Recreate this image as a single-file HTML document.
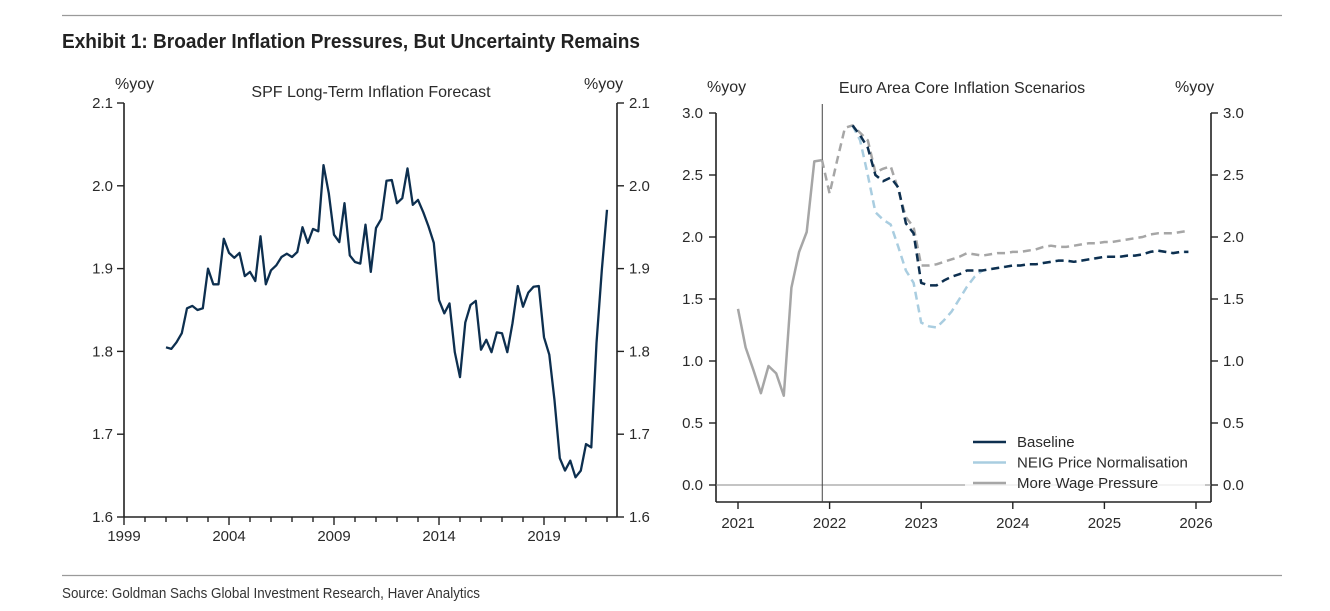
<!DOCTYPE html>
<html><head><meta charset="utf-8">
<style>
body{margin:0;background:#fff;width:1330px;height:611px;overflow:hidden;font-family:"Liberation Sans",sans-serif;}
svg{position:absolute;left:0;top:0}
</style></head>
<body>
<svg id="c" width="1330" height="611">
  <line x1="62" y1="15.5" x2="1282" y2="15.5" stroke="#9a9a9a" stroke-width="1.2"/>
  <text x="62" y="48" textLength="578" lengthAdjust="spacingAndGlyphs" font-family="Liberation Sans Narrow, Liberation Sans, sans-serif" font-weight="bold" font-size="20" fill="#222">Exhibit 1: Broader Inflation Pressures, But Uncertainty Remains</text>
  <line x1="62" y1="575.5" x2="1282" y2="575.5" stroke="#9a9a9a" stroke-width="1.2"/>
  <text x="62" y="598" textLength="418" lengthAdjust="spacingAndGlyphs" font-family="Liberation Sans Narrow, Liberation Sans, sans-serif" font-size="15" fill="#333">Source: Goldman Sachs Global Investment Research, Haver Analytics</text>
  <g id="left"></g>
  <g id="right"></g>
</svg>
<script>
// ---- Left chart data (quarterly from 2001Q1) ----
const spfStartYear = 2001;
const spfValues = [1.805,1.803,1.811,1.822,1.852,1.855,1.850,1.852,1.900,1.881,1.881,1.936,1.919,1.913,1.919,1.891,1.896,1.885,1.939,1.881,1.898,1.904,1.914,1.918,1.914,1.920,1.950,1.931,1.948,1.945,2.025,1.991,1.941,1.932,1.979,1.916,1.908,1.906,1.953,1.896,1.949,1.960,2.006,2.007,1.979,1.985,2.021,1.977,1.983,1.968,1.951,1.931,1.862,1.846,1.858,1.799,1.769,1.835,1.856,1.861,1.802,1.814,1.799,1.823,1.822,1.799,1.834,1.879,1.854,1.871,1.878,1.879,1.817,1.796,1.741,1.671,1.656,1.668,1.648,1.656,1.688,1.684,1.810,1.898,1.971];
const spfYTicks = [1.6,1.7,1.8,1.9,2.0,2.1];
const spfYLabels = ["1.6","1.7","1.8","1.9","2.0","2.1"];
const spfXLabels = [1999,2004,2009,2014,2019];

// ---- Right chart data ----
const histValues = [1.42,1.11,0.93,0.74,0.96,0.90,0.72,1.59,1.88,2.04,2.61,2.62]; // Jan-Dec 2021
const wageValues = [2.35,2.62,2.88,2.90,2.84,2.78,2.52,2.55,2.57,2.38,2.16,2.08,
 1.77,1.77,1.78,1.80,1.82,1.84,1.87,1.86,1.85,1.86,1.87,1.87,
 1.88,1.88,1.89,1.90,1.92,1.93,1.92,1.92,1.93,1.94,1.95,1.95,
 1.96,1.96,1.97,1.98,1.99,2.00,2.02,2.03,2.03,2.03,2.04,2.05];
const baselineValues = [null,null,null,2.90,2.82,2.72,2.50,2.45,2.48,2.40,2.11,2.03,
 1.63,1.61,1.61,1.65,1.68,1.70,1.73,1.73,1.73,1.74,1.75,1.76,
 1.77,1.77,1.78,1.78,1.79,1.80,1.81,1.81,1.80,1.81,1.82,1.83,
 1.84,1.84,1.84,1.85,1.85,1.86,1.88,1.89,1.88,1.87,1.88,1.88];
const neigValues = [null,null,null,2.90,2.78,2.50,2.20,2.14,2.10,1.92,1.73,1.63,
 1.31,1.28,1.27,1.33,1.40,1.50,1.60,1.68,1.73,1.74,1.75,1.76,
 1.77,1.77,1.78,1.78,1.79,1.80,1.81,1.81,1.80,1.81,1.82,1.83,
 1.84,1.84,1.84,1.85,1.85,1.86,1.88,1.89,1.88,1.87,1.88,1.88];
const ezYTicks = [0,0.5,1,1.5,2,2.5,3];
const ezYLabels = ["0.0","0.5","1.0","1.5","2.0","2.5","3.0"];
const ezXLabels = [2021,2022,2023,2024,2025,2026];
const forecastStart = 2021.92;

const NS="http://www.w3.org/2000/svg";
function mk(parent,tag,attrs){const e=document.createElementNS(NS,tag);for(const k in attrs)e.setAttribute(k,attrs[k]);parent.appendChild(e);return e;}
function txt(parent,x,y,s,anchor,size){const t=mk(parent,'text',{x:x,y:y,'text-anchor':anchor,'font-size':size,fill:'#2a2a2a','font-family':'Liberation Sans, sans-serif'});t.textContent=s;return t;}

// ===== Left chart =====
(function(){
  const g=document.getElementById('left');
  const L=124,R=617,T=103,B=517;
  const x=yr=>L+(yr-1999)*21;
  const y=v=>B-(v-1.6)/0.5*(B-T);
  let a=mk(g,'line',{x1:L,y1:T,x2:L,y2:B,stroke:'#222','stroke-width':1.6});
  
  a=mk(g,'line',{x1:R,y1:T,x2:R,y2:B,stroke:'#222','stroke-width':1.6});
  
  a=mk(g,'line',{x1:L,y1:B,x2:R,y2:B,stroke:'#222','stroke-width':1.6});
  
  spfYTicks.forEach((v,i)=>{
    mk(g,'line',{x1:L-7,y1:y(v),x2:L,y2:y(v),stroke:'#222','stroke-width':1.4});
    mk(g,'line',{x1:R,y1:y(v),x2:R+7,y2:y(v),stroke:'#222','stroke-width':1.4});
    let t=txt(g,L-11,y(v)+5,spfYLabels[i],'end',15);
    
    t=txt(g,R+12,y(v)+5,spfYLabels[i],'start',15);
    
  });
  for(let yr=1999;yr<=2022;yr++){
    const maj=spfXLabels.indexOf(yr)>=0;
    mk(g,'line',{x1:x(yr),y1:B,x2:x(yr),y2:B+(maj?8:5),stroke:'#222','stroke-width':1.4});
  }
  spfXLabels.forEach(yr=>{
    const t=txt(g,x(yr),B+24,String(yr),'middle',15);
    
  });
  let t=txt(g,115,89,'%yoy','start',16);
  t=txt(g,584,89,'%yoy','start',16);
  t=txt(g,371,97,'SPF Long-Term Inflation Forecast','middle',16);
  const pts=spfValues.map((v,i)=>x(spfStartYear+i*0.25).toFixed(1)+','+y(v).toFixed(1)).join(' ');
  const p=mk(g,'polyline',{points:pts,fill:'none',stroke:'#0d2f4f','stroke-width':2.3,'stroke-linejoin':'round'});
  
})();

// ===== Right chart =====
(function(){
  const g=document.getElementById('right');
  const L=716,R=1211,B=502;
  const x=yr=>738+(yr-2021)*91.6;
  const y=v=>485-v*124;
  let a=mk(g,'line',{x1:L,y1:y(3.0),x2:L,y2:B,stroke:'#222','stroke-width':1.6});
  
  a=mk(g,'line',{x1:R,y1:y(3.0),x2:R,y2:B,stroke:'#222','stroke-width':1.6});
  
  a=mk(g,'line',{x1:L,y1:B,x2:R,y2:B,stroke:'#222','stroke-width':1.6});
  
  a=mk(g,'line',{x1:L,y1:y(0),x2:R,y2:y(0),stroke:'#888','stroke-width':1});
  
  a=mk(g,'line',{x1:x(forecastStart),y1:104,x2:x(forecastStart),y2:B,stroke:'#444','stroke-width':1});
  
  ezYTicks.forEach((v,i)=>{
    mk(g,'line',{x1:L-7,y1:y(v),x2:L,y2:y(v),stroke:'#222','stroke-width':1.4});
    mk(g,'line',{x1:R,y1:y(v),x2:R+7,y2:y(v),stroke:'#222','stroke-width':1.4});
    let t=txt(g,L-13,y(v)+5,ezYLabels[i],'end',15);
    
    t=txt(g,R+12,y(v)+5,ezYLabels[i],'start',15);
    
  });
  ezXLabels.forEach(yr=>{
    mk(g,'line',{x1:x(yr),y1:B,x2:x(yr),y2:B+7,stroke:'#222','stroke-width':1.4});
    const t=txt(g,x(yr),B+26,String(yr),'middle',15);
    
  });
  let t=txt(g,707,92,'%yoy','start',16);
  t=txt(g,1175,92,'%yoy','start',16);
  t=txt(g,962,93,'Euro Area Core Inflation Scenarios','middle',16);

  const hp=histValues.map((v,i)=>x(2021+i/12).toFixed(1)+','+y(v).toFixed(1)).join(' ');
  let p=mk(g,'polyline',{points:hp,fill:'none',stroke:'#a6a6a6','stroke-width':2.5,'stroke-linejoin':'round'});
  
  const last=histValues[histValues.length-1];
  function series(vals,color,name,linkHist){
    const pts=[];
    if(linkHist) pts.push(x(2021+11/12).toFixed(1)+','+y(last).toFixed(1));
    vals.forEach((v,i)=>{ if(v===null) return;
      pts.push(x(2022+i/12).toFixed(1)+','+y(v).toFixed(1)); });
    const e=mk(g,'polyline',{points:pts.join(' '),fill:'none',stroke:color,'stroke-width':2.5,'stroke-dasharray':'8,5','stroke-linejoin':'round'});
    
  }
  series(wageValues,'#a6a6a6','wage-pressure-line',true);
  series(neigValues,'#a9cde0','neig-normalisation-line',false);
  series(baselineValues,'#0d2f4f','baseline-line',false);

  const lg=mk(g,'g',{});
  
  mk(lg,'rect',{x:965,y:430,width:240,height:64,fill:'#fff','fill-opacity':0.8});
  const items=[['Baseline','#0d2f4f'],['NEIG Price Normalisation','#a9cde0'],['More Wage Pressure','#a6a6a6']];
  items.forEach((it,i)=>{
    const yy=442+i*20.5;
    const ln=mk(lg,'line',{x1:973,y1:yy,x2:1006,y2:yy,stroke:it[1],'stroke-width':2.5});
    
    const tt=txt(lg,1017,yy+5,it[0],'start',15);
    
  });
})();
</script>
</body></html>
